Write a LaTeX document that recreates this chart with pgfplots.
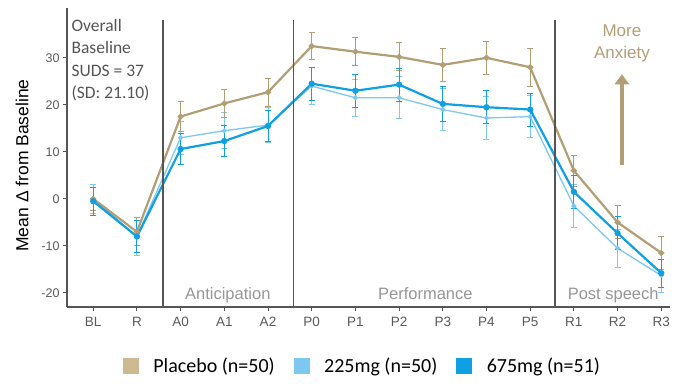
\documentclass[border=0pt]{standalone}
\usepackage{pgfplots}
\pgfplotsset{compat=1.18}
\usetikzlibrary{arrows.meta}
\usepackage{fontspec}
\setmainfont{Carlito}
\newfontfamily\arialf{Liberation Sans}
\definecolor{tanl}{RGB}{178,158,116}
\definecolor{tanleg}{RGB}{205,186,146}
\definecolor{lblue}{RGB}{125,200,240}
\definecolor{dblue}{RGB}{15,160,228}
\definecolor{axgray}{RGB}{85,85,85}
\definecolor{ticktext}{RGB}{90,90,90}
\definecolor{phasegray}{RGB}{150,150,150}
\begin{document}
\begin{tikzpicture}
\useasboundingbox (0,0) rectangle (677pt,383pt);
\begin{axis}[
  at={(67pt,76pt)}, anchor=south west,
  scale only axis, width=603pt, height=299pt,
  xmin=-0.6, xmax=13.2, ymin=-23, ymax=40.6,
  axis x line*=bottom, axis y line*=left,
  axis line style={-, axgray, line width=1.6pt},
  xtick={0,...,13},
  xticklabels={BL,R,A0,A1,A2,P0,P1,P2,P3,P4,P5,R1,R2,R3},
  ytick={-20,-10,0,10,20,30},
  tick align=outside, major tick length=4pt,
  tick style={axgray, line width=1pt},
  yticklabel style={font=\arialf\fontsize{12.5}{13}\selectfont, text=ticktext},
  xticklabel style={font=\arialf\fontsize{13.5}{14}\selectfont, text=ticktext, yshift=-3pt},
  /pgf/number format/assume math mode=true,
  ylabel={Mean Δ from Baseline},
  ylabel style={font=\arialf\fontsize{17.5}{18}\selectfont, yshift=6pt, xshift=-8pt},
  clip=false,
  legend style={at={(0.49,-0.16)}, anchor=north, draw=none, legend columns=3,
    font=\fontsize{20}{20}\selectfont, inner sep=1pt,
    /tikz/every odd column/.append style={column sep=13pt},
    /tikz/every even column/.append style={column sep=17pt}},
  legend image code/.code={\fill[#1] (0pt,-7pt) rectangle (15pt,8pt);},
  error bars/y dir=both, error bars/y explicit,
]
\addplot[lblue, line width=1.3pt, mark=*, mark size=1.8pt, forget plot,
  error bars/error bar style={lblue, line width=0.9pt}, error bars/error mark options={rotate=90, mark size=3pt, lblue, line width=0.9pt}]
  table[x=x, y=y, y error=e] {
x y e
0 0 3
1 -8 4
2 13 3.5
3 14.5 3.8
4 15.7 3.8
5 24 4
6 21.5 4
7 21.5 4.5
8 19 4.5
9 17.2 4.5
10 17.5 4.5
11 -1.5 4.5
12 -10.5 4
13 -16.3 3.5
};
\addplot[tanl, line width=2.2pt, mark=*, mark size=1.8pt, forget plot,
  error bars/error bar style={tanl, line width=1pt}, error bars/error mark options={rotate=90, mark size=3pt, tanl, line width=1pt}]
  table[x=x, y=y, y error=e] {
x y e
0 0 2.5
1 -7 3
2 17.5 3.2
3 20.3 3
4 22.7 3
5 32.5 2.8
6 31.3 3
7 30.2 3
8 28.5 3.5
9 30 3.5
10 28 4
11 6 3.3
12 -5 3.5
13 -11.5 3.5
};
\addplot[dblue, line width=2.2pt, mark=*, mark size=2pt, forget plot,
  error bars/error bar style={dblue, line width=1pt}, error bars/error mark options={rotate=90, mark size=3pt, dblue, line width=1pt}]
  table[x=x, y=y, y error=e] {
x y e
0 -0.5 3
1 -8 3.5
2 10.6 3.3
3 12.3 3.3
4 15.5 3.2
5 24.5 3.5
6 23 3.5
7 24.3 3.5
8 20.2 3.8
9 19.5 3.5
10 19 3.5
11 1.5 3.5
12 -7.3 3.5
13 -15.8 3
};
\addlegendimage{tanleg}
\addlegendentry{Placebo (n=50)}
\addlegendimage{lblue}
\addlegendentry{225mg (n=50)}
\addlegendimage{dblue}
\addlegendentry{675mg (n=51)}
\draw[axgray, line width=1.6pt] (axis cs:1.6,-23) -- (axis cs:1.6,38);
\draw[axgray, line width=1.6pt] (axis cs:4.58,-23) -- (axis cs:4.58,38);
\draw[axgray, line width=1.6pt] (axis cs:10.57,-23) -- (axis cs:10.57,38);
\node[anchor=base, text=phasegray, font=\arialf\fontsize{16.5}{16.5}\selectfont] at (axis cs:3.08,-21.4) {Anticipation};
\node[anchor=base, text=phasegray, font=\arialf\fontsize{16.5}{16.5}\selectfont] at (axis cs:7.6,-21.4) {Performance};
\node[anchor=base, text=phasegray, font=\arialf\fontsize{16.5}{16.5}\selectfont] at (axis cs:11.9,-21.4) {Post speech};
\node[anchor=north west, align=left, text=axgray, font=\fontsize{17.5}{22.5}\selectfont, inner sep=0pt] at (axis cs:-0.5,38.3) {Overall\\Baseline\\SUDS = 37\\(SD: 21.10)};
\node[anchor=north, align=center, text=tanl, font=\arialf\fontsize{17}{22}\selectfont, inner sep=0pt] at (axis cs:12.1,37) {More\\Anxiety};
\draw[tanl, line width=4pt, -{Triangle[width=14pt,length=10pt]}] (axis cs:12.1,7.2) -- (axis cs:12.1,26.5);
\end{axis}
\end{tikzpicture}
\end{document}
